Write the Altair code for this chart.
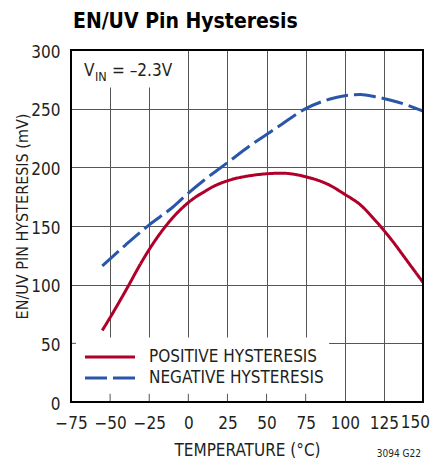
import altair as alt
import pandas as pd

# ---- data ----
pos_temp = [-55, -50, -40, -30, -25, -20, -15, -10, -5, 0, 5, 10, 15, 25, 40, 60, 75, 90, 100, 110, 120, 130, 140, 150]
pos_mv = [61, 72, 95, 119, 130, 140, 149, 157, 164, 170, 175, 179, 183, 188.5, 193, 195, 192, 185, 177, 168, 154, 138, 120, 102]
neg_temp = [-55, -40, -25, -10, 0, 10, 25, 40, 50, 60, 75, 90, 100, 110, 120, 130, 140, 150]
neg_mv = [116, 134, 151, 166, 178, 189, 204, 219, 228, 237, 250, 258, 261, 262, 260, 257, 253, 248]
series_names = ["POSITIVE HYSTERESIS", "NEGATIVE HYSTERESIS"]
x_ticks = [-75, -50, -25, 0, 25, 50, 75, 100, 125, 150]
y_ticks = [0, 50, 100, 150, 200, 250, 300]
inner_x_ticks = [-50, -25, 0, 25, 50, 75]
last_x_label = ["150"]

FONT = "DejaVu Sans Condensed, Liberation Sans Narrow, Liberation Sans, sans-serif"
TXT = "#231f20"
RED, BLUE = "#B0002A", "#2A56AA"

# layout helpers (plot is 352 x 352 px)
W = H = 352
X0, X1, Y0, Y1 = -75, 150, 0, 300
def px_to_x(p):
    return X0 + p * (X1 - X0) / W
def px_to_y(p):  # p measured from the top of the plot
    return Y1 - p * (Y1 - Y0) / H

df = pd.DataFrame(
    {"temp": pos_temp + neg_temp,
     "mv": pos_mv + neg_mv,
     "series": [series_names[0]] * len(pos_temp) + [series_names[1]] * len(neg_temp)}
)

# white areas behind the legend and the V_IN note (grid hidden there)
masks = pd.DataFrame({"temp": [-75, -75], "temp2": [90, -10], "mv": [0, 268], "mv2": [55, 300]})
frame = pd.DataFrame({"temp": [-75], "temp2": [150], "mv": [0], "mv2": [300]})
bticks = pd.DataFrame({"temp": inner_x_ticks, "mv": [0] * len(inner_x_ticks), "mv2": [7] * len(inner_x_ticks)})
lticks = pd.DataFrame({"temp": [-75], "temp2": [-71.8], "mv": [50]})
last_lab = pd.DataFrame({"temp": [150], "mv": [0], "lab": last_x_label})

# hand-built legend (rows inside the plot, lower left)
legend_df = pd.DataFrame({
    "series": series_names,
    "temp": [px_to_x(14)] * 2,
    "temp2": [px_to_x(64)] * 2,
    "tx": [px_to_x(78)] * 2,
    "mv": [px_to_y(307), px_to_y(328)],
})

xscale = alt.Scale(domain=[X0, X1], nice=False, zero=False)
yscale = alt.Scale(domain=[Y0, Y1], nice=False, zero=False)
xaxis = alt.Axis(values=x_ticks, title="TEMPERATURE (°C)", grid=True, ticks=False, tickSize=0,
                 domain=False, labelPadding=26, labelBaseline="alphabetic", labelFlush=False,
                 labelOverlap=False, labelExpr="datum.value == 150 ? '' : datum.label",
                 titleY=53, titleBaseline="alphabetic", titleFontSize=17)
yaxis = alt.Axis(values=y_ticks, title="EN/UV PIN HYSTERESIS (mV)", grid=True, ticks=False, tickSize=0,
                 domain=False, labelPadding=11, labelFlush=False, labelOverlap=False, labelOffset=2,
                 titleX=-44, titleY=166, titleBaseline="alphabetic", titleAlign="center",
                 titleAngle=270, titleFontSize=16)

def X(f="temp"):
    return alt.X(f"{f}:Q", scale=xscale, axis=xaxis, title="TEMPERATURE (°C)")

def Y(f="mv"):
    return alt.Y(f"{f}:Q", scale=yscale, axis=yaxis, title="EN/UV PIN HYSTERESIS (mV)")

color_enc = alt.Color("series:N", scale=alt.Scale(domain=series_names, range=[RED, BLUE]), legend=None)
dash_enc = alt.StrokeDash("series:N", scale=alt.Scale(domain=series_names, range=[[1, 0], [22, 6]]),
                          legend=None)

mask_layer = alt.Chart(masks).mark_rect(fill="white", strokeWidth=0).encode(
    x=X(), x2="temp2:Q", y=Y(), y2="mv2:Q")

lines = alt.Chart(df).mark_line(strokeWidth=3, interpolate="monotone").encode(
    x=X(), y=Y(), color=color_enc, strokeDash=dash_enc)

btick_layer = alt.Chart(bticks).mark_rule(color="#555555", strokeWidth=1).encode(
    x=X(), y=Y(), y2="mv2:Q")
ltick_layer = alt.Chart(lticks).mark_rule(color="#555555", strokeWidth=1).encode(
    x=X(), x2="temp2:Q", y=Y())

frame_layer = alt.Chart(frame).mark_rect(fillOpacity=0, stroke="black", strokeWidth=2).encode(
    x=X(), x2="temp2:Q", y=Y(), y2="mv2:Q")

leg_sym = alt.Chart(legend_df).mark_rule(strokeWidth=3).encode(
    x=X(), x2="temp2:Q", y=Y(), color=color_enc, strokeDash=dash_enc)
leg_txt = alt.Chart(legend_df).mark_text(font=FONT, fontSize=17, color=TXT, align="left",
                                         baseline="middle").encode(
    x=X("tx"), y=Y(), text="series:N")

# last x tick label, kept inside the page's right edge
last_lab_layer = alt.Chart(last_lab).mark_text(font=FONT, fontSize=17, color=TXT, align="right",
                                               baseline="alphabetic", dx=7, dy=26).encode(
    x=X(), y=Y(), text="lab:N")

note_v = alt.Chart(frame).mark_text(text="V", font=FONT, fontSize=17, color=TXT, align="left",
                                    baseline="alphabetic", dx=13, dy=26).encode(x=X(), y=Y("mv2"))
note_in = alt.Chart(frame).mark_text(text="IN", font=FONT, fontSize=12.5, color=TXT, align="left",
                                     baseline="alphabetic", dx=24, dy=31).encode(x=X(), y=Y("mv2"))
note_val = alt.Chart(frame).mark_text(text="= –2.3V", font=FONT, fontSize=17, color=TXT, align="left",
                                      baseline="alphabetic", dx=41, dy=26).encode(x=X(), y=Y("mv2"))
title_txt = alt.Chart(frame).mark_text(text="EN/UV Pin Hysteresis", font=FONT, fontSize=21,
                                       fontWeight="bold", color="black", align="left",
                                       baseline="alphabetic", dx=2, dy=-22).encode(x=X(), y=Y("mv2"))
code_txt = alt.Chart(frame).mark_text(text="3094 G22", font=FONT, fontSize=10, color=TXT, align="right",
                                      baseline="alphabetic", dx=-2, dy=55).encode(x=X("temp2"), y=Y())

chart = alt.layer(mask_layer, lines, btick_layer, ltick_layer, frame_layer, leg_sym, leg_txt,
                  last_lab_layer, note_v, note_in, note_val, title_txt, code_txt).properties(
    width=W, height=H,
    autosize=alt.AutoSizeParams(type="none"),
    padding={"left": 63, "top": 42, "right": 7, "bottom": 56},
).configure_view(stroke=None).configure_axis(
    gridColor="#555555", gridWidth=1, gridOpacity=1,
    labelFont=FONT, labelFontSize=17, labelColor=TXT,
    titleFont=FONT, titleColor=TXT, titleFontWeight="normal",
)

chart.save("out.html", embed_options={"renderer": "svg", "actions": False})
